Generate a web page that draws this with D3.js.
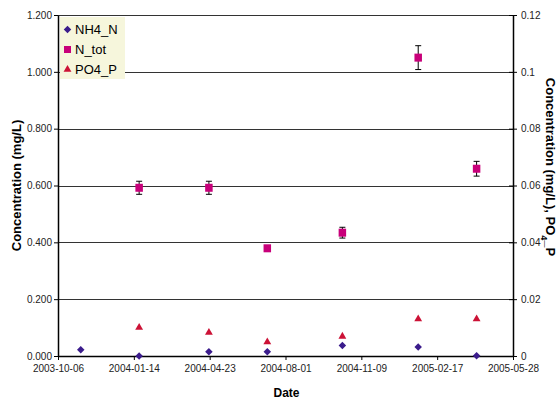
<!DOCTYPE html>
<html>
<head>
<meta charset="utf-8">
<script src="https://cdn.jsdelivr.net/npm/d3@7/dist/d3.min.js"></script>
<style>
  html, body { margin: 0; padding: 0; background: #fff; }
  svg { display: block; font-family: "Liberation Sans", Arial, sans-serif; }
</style>
</head>
<body>
<svg id="chart" width="558" height="401"></svg>
<script>
// Sampling dates and measured concentrations
const nh4Dates = ["2003-11-05", "2004-01-21", "2004-04-22", "2004-07-08", "2004-10-15", "2005-01-23", "2005-04-10"];
const nh4Values = [0.022, 0.000, 0.015, 0.015, 0.037, 0.032, 0.001];

const ntotDates = ["2004-01-21", "2004-04-22", "2004-07-08", "2004-10-15", "2005-01-23", "2005-04-10"];
const ntotValues = [0.592, 0.592, 0.379, 0.434, 1.050, 0.659];
const ntotErrors = [0.023, 0.023, 0.008, 0.019, 0.042, 0.026];

const po4Dates = ["2004-01-21", "2004-04-22", "2004-07-08", "2004-10-15", "2005-01-23", "2005-04-10"];
const po4Values = [0.0100, 0.0083, 0.0049, 0.0069, 0.0130, 0.0130];

// Axis ticks
const dateTicks = ["2003-10-06", "2004-01-14", "2004-04-23", "2004-08-01", "2004-11-09", "2005-02-17", "2005-05-28"];
const leftTicks = [0, 0.2, 0.4, 0.6, 0.8, 1.0, 1.2];
const leftTickLabels = ["0.000", "0.200", "0.400", "0.600", "0.800", "1.000", "1.200"];
const rightTicks = [0, 0.02, 0.04, 0.06, 0.08, 0.1, 0.12];
const rightTickLabels = ["0", "0.02", "0.04", "0.06", "0.08", "0.1", "0.12"];

const seriesNames = ["NH4_N", "N_tot", "PO4_P"];
const seriesColors = ["#3b1c8c", "#c8007a", "#cc1236"];

const parse = d3.utcParse("%Y-%m-%d");
const fmt = d3.utcFormat("%Y-%m-%d");

const svg = d3.select("#chart");
const plotLeft = 58, plotRight = 513, plotTop = 15, plotBottom = 356;

const x = d3.scaleUtc()
  .domain([parse(dateTicks[0]), parse(dateTicks[dateTicks.length - 1])])
  .range([plotLeft, plotRight]);
const yL = d3.scaleLinear().domain([0, 1.2]).range([plotBottom, plotTop]);
const yR = d3.scaleLinear().domain([0, 0.12]).range([plotBottom, plotTop]);

// Horizontal gridlines
svg.append("g")
  .selectAll("line")
  .data(leftTicks.slice(1))
  .join("line")
  .attr("x1", plotLeft).attr("x2", plotRight)
  .attr("y1", d => Math.round(yL(d)) + 0.5)
  .attr("y2", d => Math.round(yL(d)) + 0.5)
  .attr("stroke", "#333").attr("stroke-width", 1);

function styleAxis(g) {
  g.selectAll("path.domain").attr("stroke", "#000").attr("stroke-width", 1.5);
  g.selectAll(".tick line").attr("stroke", "#000");
  g.selectAll(".tick text").attr("fill", "#222").style("font-size", "10px")
    .style("font-family", "'Liberation Sans', Arial, sans-serif");
}

// Left axis
svg.append("g")
  .attr("transform", `translate(${plotLeft},0)`)
  .call(d3.axisLeft(yL).tickValues(leftTicks).tickSize(4).tickSizeOuter(0)
    .tickPadding(2).tickFormat((d, i) => leftTickLabels[i]))
  .call(styleAxis);

// Right axis (cross ticks)
const rAxis = svg.append("g")
  .attr("transform", `translate(${plotRight},0)`)
  .call(d3.axisRight(yR).tickValues(rightTicks).tickSize(4).tickSizeOuter(0)
    .tickPadding(4).tickFormat((d, i) => rightTickLabels[i]))
  .call(styleAxis);
rAxis.selectAll(".tick").append("line").attr("x1", -4).attr("x2", 0).attr("stroke", "#000");

// Bottom axis
svg.append("g")
  .attr("transform", `translate(0,${plotBottom})`)
  .call(d3.axisBottom(x).tickValues(dateTicks.map(parse)).tickSize(4).tickSizeOuter(0)
    .tickPadding(5).tickFormat(fmt))
  .call(styleAxis);

// Axis titles
svg.append("text")
  .attr("transform", `translate(21,${(plotTop + plotBottom) / 2}) rotate(-90)`)
  .attr("text-anchor", "middle")
  .style("font-size", "13px").style("font-weight", "bold")
  .text("Concentration (mg/L)");

svg.append("text")
  .attr("x", (plotLeft + plotRight) / 2 + 1).attr("y", 397)
  .attr("text-anchor", "middle")
  .style("font-size", "12px").style("font-weight", "bold")
  .text("Date");

const rTitle = svg.append("text")
  .attr("transform", `translate(546,167) rotate(90)`)
  .attr("text-anchor", "middle")
  .style("font-size", "13px").style("font-weight", "bold");
rTitle.append("tspan").text("Concentration (mg/L), PO");
rTitle.append("tspan").attr("baseline-shift", "sub").style("font-size", "9px").text("4");
rTitle.append("tspan").text("_P");

// Marker symbols
const diamond = d3.symbol().type(d3.symbolDiamond2).size(36);
const triangle = d3.symbol().type(d3.symbolTriangle2).size(44);

// N_tot error bars
const err = svg.append("g").attr("stroke", "#000").attr("stroke-width", 1);
ntotDates.forEach((d, i) => {
  const cx = x(parse(d));
  const y1 = yL(ntotValues[i] + ntotErrors[i]);
  const y2 = yL(ntotValues[i] - ntotErrors[i]);
  err.append("line").attr("x1", cx).attr("x2", cx).attr("y1", y1).attr("y2", y2);
  err.append("line").attr("x1", cx - 3).attr("x2", cx + 3).attr("y1", y1).attr("y2", y1);
  err.append("line").attr("x1", cx - 3).attr("x2", cx + 3).attr("y1", y2).attr("y2", y2);
});

// N_tot squares
svg.append("g").selectAll("rect")
  .data(ntotDates.map((d, i) => ({ date: parse(d), v: ntotValues[i] })))
  .join("rect")
  .attr("x", d => x(d.date) - 3.75).attr("y", d => yL(d.v) - 4)
  .attr("width", 7.5).attr("height", 8)
  .attr("fill", seriesColors[1]);

// PO4_P triangles (right axis)
svg.append("g").selectAll("path")
  .data(po4Dates.map((d, i) => ({ date: parse(d), v: po4Values[i] })))
  .join("path")
  .attr("d", triangle)
  .attr("transform", d => `translate(${x(d.date)},${yR(d.v)})`)
  .attr("fill", seriesColors[2]);

// NH4_N diamonds
svg.append("g").selectAll("path")
  .data(nh4Dates.map((d, i) => ({ date: parse(d), v: nh4Values[i] })))
  .join("path")
  .attr("d", diamond)
  .attr("transform", d => `translate(${x(d.date)},${yL(d.v)})`)
  .attr("fill", seriesColors[0]);

// Legend
const legend = svg.append("g");
legend.append("rect")
  .attr("x", 60).attr("y", 17).attr("width", 65).attr("height", 62)
  .attr("fill", "#f6f6dc");
const legendRows = [29.5, 49.5, 69.5];
seriesNames.forEach((name, i) => {
  const cy = legendRows[i];
  if (i === 0) {
    legend.append("path").attr("d", diamond).attr("transform", `translate(67.5,${cy})`).attr("fill", seriesColors[0]);
  } else if (i === 1) {
    legend.append("rect").attr("x", 64).attr("y", cy - 3.5).attr("width", 7).attr("height", 7).attr("fill", seriesColors[1]);
  } else {
    legend.append("path").attr("d", triangle).attr("transform", `translate(67.5,${cy})`).attr("fill", seriesColors[2]);
  }
  legend.append("text")
    .attr("x", 75).attr("y", cy + 4.5)
    .style("font-size", "13px").attr("fill", "#000")
    .text(name);
});
</script>
</body>
</html>
